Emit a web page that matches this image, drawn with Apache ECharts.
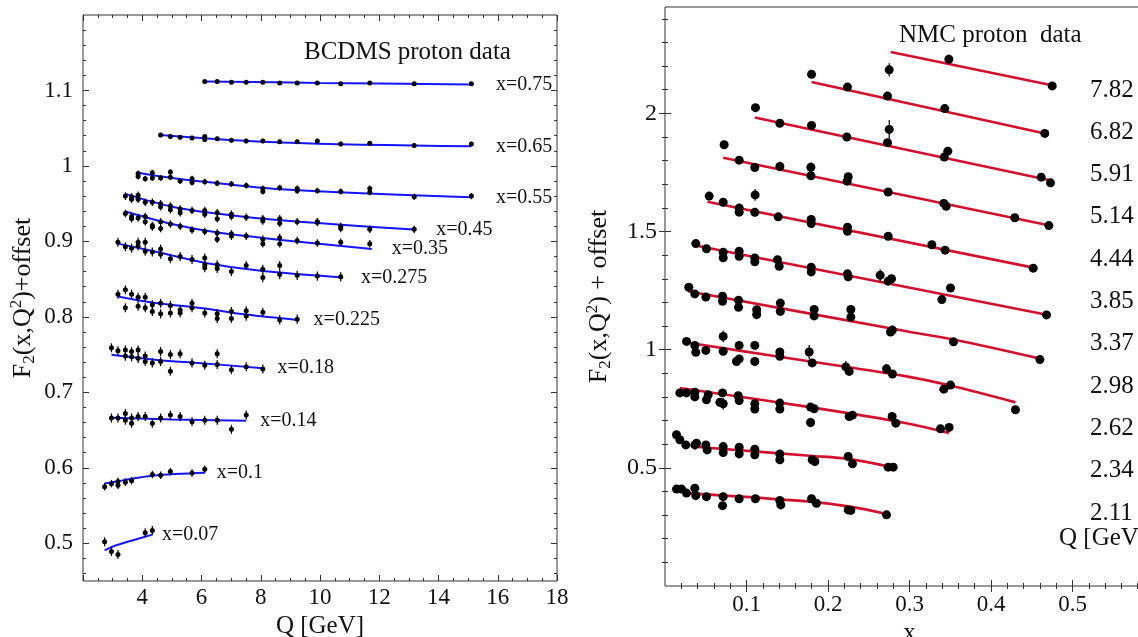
<!DOCTYPE html>
<html><head><meta charset="utf-8">
<script src="https://cdn.jsdelivr.net/npm/echarts@6/dist/echarts.min.js"></script>
<style>html,body{margin:0;padding:0;background:#fff}#c{width:1138px;height:637px}</style>
</head><body><div id="c"></div>
<script>
// ================= DATA =================
// BCDMS proton data (left panel): [Q (GeV), F2(x,Q^2)+offset]
const bcdmsLabels = ['x=0.75','x=0.65','x=0.55','x=0.45','x=0.35','x=0.275','x=0.225','x=0.18','x=0.14','x=0.1','x=0.07'];
const bcdms075 = [[6.11,1.112],[6.53,1.112],[7.01,1.111],[7.51,1.111],[8.07,1.111],[8.64,1.110],[9.23,1.110],[9.91,1.110],[10.70,1.109],[11.68,1.110],[13.18,1.109],[15.11,1.109]];
const bcdms065 = [[4.62,1.041],[4.95,1.039],[5.28,1.038],[5.68,1.037],[6.11,1.039],[6.11,1.035],[6.53,1.036],[7.01,1.034],[7.51,1.033],[8.07,1.033],[8.64,1.032],[9.23,1.032],[9.91,1.033],[10.70,1.029],[11.68,1.030],[13.18,1.027],[15.11,1.029]];
const bcdms055 = [[3.86,0.990],[3.86,0.986],[4.10,0.983],[4.34,0.991],[4.34,0.984],[4.62,0.984],[4.95,0.992],[4.95,0.985],[5.28,0.980],[5.68,0.983],[5.68,0.978],[6.11,0.979],[6.53,0.977],[7.01,0.976],[7.51,0.974],[8.07,0.970],[8.07,0.966],[8.64,0.971],[9.23,0.970],[9.23,0.967],[9.91,0.967],[10.70,0.966],[11.68,0.970],[11.68,0.965],[13.18,0.959],[15.11,0.960]];
const bcdms045 = [[3.43,0.960],[3.64,0.959],[3.64,0.956],[3.86,0.961],[3.86,0.956],[4.10,0.952],[4.34,0.952],[4.62,0.950],[4.62,0.946],[4.95,0.947],[4.95,0.942],[5.28,0.943],[5.28,0.938],[5.68,0.941],[6.11,0.941],[6.11,0.936],[6.53,0.938],[6.53,0.930],[7.01,0.936],[7.01,0.933],[7.51,0.932],[8.07,0.930],[8.07,0.927],[8.64,0.930],[8.64,0.924],[9.23,0.926],[9.91,0.926],[9.91,0.925],[10.70,0.920],[10.70,0.917],[11.68,0.916],[13.18,0.916]];
const bcdms035 = [[3.43,0.937],[3.64,0.933],[3.64,0.930],[3.86,0.931],[4.10,0.933],[4.10,0.926],[4.34,0.921],[4.34,0.919],[4.62,0.926],[4.62,0.917],[4.95,0.923],[5.28,0.920],[5.68,0.915],[6.11,0.913],[6.53,0.911],[6.53,0.903],[7.01,0.910],[7.01,0.907],[7.51,0.907],[8.07,0.903],[8.07,0.897],[8.64,0.905],[8.64,0.897],[9.23,0.901],[9.91,0.898],[10.70,0.899],[11.68,0.897]];
const bcdms0275 = [[3.18,0.899],[3.43,0.893],[3.64,0.891],[3.86,0.899],[3.86,0.894],[4.10,0.899],[4.10,0.887],[4.34,0.886],[4.62,0.890],[4.62,0.883],[4.95,0.877],[5.28,0.880],[5.68,0.876],[6.11,0.878],[6.11,0.869],[6.11,0.865],[6.53,0.869],[6.53,0.864],[7.01,0.860],[7.51,0.868],[8.07,0.863],[8.07,0.852],[8.64,0.868],[8.64,0.856],[9.23,0.855],[9.91,0.854],[10.70,0.853]];
const bcdms0225 = [[3.18,0.830],[3.43,0.836],[3.43,0.812],[3.64,0.830],[3.86,0.826],[3.86,0.814],[4.10,0.826],[4.10,0.812],[4.34,0.816],[4.34,0.807],[4.62,0.818],[4.62,0.804],[4.95,0.815],[4.95,0.805],[5.28,0.809],[5.28,0.805],[5.68,0.818],[5.68,0.812],[6.11,0.805],[6.53,0.804],[6.53,0.798],[7.01,0.807],[7.01,0.798],[7.51,0.808],[7.51,0.801],[8.07,0.806],[8.64,0.796],[9.23,0.797]];
const bcdms018 = [[2.96,0.759],[3.18,0.755],[3.43,0.756],[3.43,0.748],[3.64,0.754],[3.64,0.747],[3.86,0.756],[3.86,0.745],[4.10,0.748],[4.10,0.741],[4.34,0.739],[4.62,0.754],[4.62,0.741],[4.95,0.750],[4.95,0.728],[5.28,0.751],[5.68,0.739],[6.11,0.736],[6.53,0.751],[6.53,0.737],[7.01,0.730],[7.51,0.734],[8.07,0.731]];
const bcdms014 = [[2.96,0.666],[3.18,0.666],[3.43,0.672],[3.43,0.663],[3.64,0.666],[3.64,0.659],[3.86,0.668],[4.10,0.668],[4.34,0.659],[4.62,0.666],[4.95,0.670],[5.28,0.668],[5.68,0.661],[6.11,0.663],[6.53,0.663],[7.01,0.651],[7.51,0.670]];
const bcdms010 = [[2.73,0.575],[2.96,0.579],[3.18,0.582],[3.18,0.577],[3.43,0.581],[3.64,0.583],[4.34,0.591],[4.62,0.590],[4.95,0.595],[5.68,0.593],[6.11,0.598]];
const bcdms007 = [[2.73,0.502],[2.96,0.489],[3.18,0.485],[4.10,0.514],[4.34,0.517]];
const bcdmsErr = [0.002,0.003,0.004,0.005,0.005,0.006,0.006,0.006,0.006,0.005,0.006];
// fitted curves (left panel)
const fit075 = [[6.11,1.112],[10.0,1.110],[15.11,1.108]];
const fit065 = [[4.62,1.041],[8.68,1.031],[15.11,1.026]];
const fit055 = [[3.86,0.991],[5.0,0.984],[6.11,0.979],[8.68,0.969],[15.11,0.9585]];
const fit045 = [[3.43,0.963],[5.0,0.946],[6.5,0.937],[8.68,0.928],[13.18,0.9157]];
const fit035 = [[3.43,0.9396],[5.0,0.923],[6.5,0.912],[8.68,0.902],[11.75,0.890]];
const fit0275 = [[3.22,0.8967],[4.5,0.886],[6.14,0.8714],[8.0,0.861],[10.76,0.8523]];
const fit0225 = [[3.18,0.827],[4.34,0.819],[6.11,0.811],[7.51,0.803],[9.23,0.796]];
const fit018 = [[2.96,0.7497],[4.5,0.743],[6.0,0.7386],[8.07,0.732]];
const fit014 = [[2.96,0.6664],[5.0,0.664],[7.51,0.6624]];
const fit010 = [[2.73,0.5793],[3.3,0.583],[4.34,0.5895],[6.11,0.5934]];
const fit007 = [[2.73,0.4907],[3.12,0.4973],[3.6,0.503],[4.34,0.5115]];

// NMC proton data (right panel): [x, F2(x,Q^2)+offset, error]
const nmcQLabels = ['7.82','6.82','5.91','5.14','4.44','3.85','3.37','2.98','2.62','2.34','2.11'];
const nmc782 = [[0.2751,2.184,0.028],[0.3483,2.229,0.02],[0.4751,2.116,0.01]];
const nmc682 = [[0.1798,2.165,0.01],[0.2239,2.111,0.01],[0.2730,2.073,0.01],[0.3433,2.020,0.01],[0.4660,1.915,0.01]];
const nmc591 = [[0.1110,2.024,0.01],[0.1409,1.958,0.01],[0.1798,1.949,0.01],[0.2231,1.900,0.01],[0.2751,1.932,0.04],[0.2730,1.876,0.01],[0.3470,1.840,0.012],[0.3426,1.815,0.01],[0.4616,1.730,0.01],[0.4730,1.706,0.01]];
const nmc514 = [[0.0726,1.867,0.01],[0.0910,1.802,0.01],[0.1102,1.771,0.01],[0.1409,1.775,0.02],[0.1790,1.772,0.02],[0.1790,1.736,0.01],[0.2248,1.732,0.015],[0.2235,1.713,0.01],[0.2738,1.667,0.01],[0.3421,1.619,0.01],[0.3450,1.607,0.01],[0.4292,1.558,0.01],[0.4710,1.525,0.01]];
const nmc444 = [[0.0542,1.650,0.01],[0.0714,1.624,0.01],[0.0910,1.600,0.01],[0.0910,1.582,0.015],[0.1106,1.655,0.025],[0.1102,1.581,0.01],[0.1389,1.562,0.01],[0.1794,1.551,0.01],[0.1794,1.534,0.01],[0.2239,1.518,0.01],[0.2239,1.501,0.01],[0.2738,1.480,0.01],[0.3274,1.444,0.01],[0.3437,1.421,0.01],[0.4518,1.345,0.01]];
const nmc385 = [[0.0378,1.449,0.01],[0.0509,1.427,0.01],[0.0714,1.412,0.01],[0.0714,1.389,0.01],[0.0910,1.417,0.01],[0.0910,1.395,0.01],[0.1102,1.388,0.01],[0.1102,1.372,0.01],[0.1380,1.381,0.01],[0.1401,1.353,0.01],[0.1794,1.349,0.01],[0.1794,1.329,0.01],[0.2239,1.321,0.01],[0.2248,1.308,0.01],[0.2640,1.315,0.025],[0.2738,1.290,0.01],[0.2779,1.300,0.015],[0.3397,1.212,0.01],[0.3503,1.261,0.01],[0.4681,1.147,0.01]];
const nmc337 = [[0.0292,1.264,0.01],[0.0366,1.236,0.01],[0.0501,1.223,0.01],[0.0706,1.226,0.01],[0.0706,1.205,0.01],[0.0902,1.209,0.01],[0.0902,1.179,0.01],[0.1125,1.169,0.01],[0.1125,1.149,0.02],[0.1415,1.197,0.015],[0.1415,1.162,0.01],[0.1830,1.170,0.01],[0.1830,1.143,0.01],[0.2280,1.170,0.01],[0.2280,1.138,0.01],[0.2767,1.075,0.01],[0.2790,1.083,0.01],[0.3540,1.033,0.01],[0.4600,0.958,0.01]];
const nmc298 = [[0.0264,1.035,0.01],[0.0366,1.018,0.01],[0.0378,0.989,0.01],[0.0501,0.997,0.01],[0.0714,1.056,0.025],[0.0714,0.993,0.01],[0.0877,0.950,0.01],[0.0910,1.018,0.015],[0.0910,0.961,0.01],[0.1102,1.018,0.01],[0.1102,0.950,0.01],[0.1409,0.990,0.01],[0.1409,0.972,0.01],[0.1769,0.990,0.03],[0.1806,0.944,0.01],[0.2219,0.927,0.025],[0.2260,0.908,0.01],[0.2718,0.919,0.02],[0.2791,0.897,0.01],[0.3421,0.833,0.01],[0.3503,0.850,0.01],[0.4300,0.746,0.01]];
const nmc262 = [[0.0182,0.817,0.01],[0.0264,0.817,0.01],[0.0366,0.820,0.01],[0.0366,0.800,0.01],[0.0509,0.788,0.01],[0.0530,0.809,0.01],[0.0673,0.777,0.01],[0.0706,0.817,0.01],[0.0714,0.771,0.025],[0.0898,0.805,0.012],[0.0910,0.785,0.01],[0.1102,0.771,0.01],[0.1102,0.749,0.012],[0.1409,0.774,0.01],[0.1409,0.749,0.01],[0.1786,0.757,0.01],[0.1830,0.750,0.01],[0.1786,0.692,0.02],[0.2260,0.717,0.01],[0.2300,0.723,0.01],[0.2787,0.717,0.01],[0.2832,0.689,0.01],[0.3380,0.665,0.01],[0.3486,0.671,0.01]];
const nmc234 = [[0.0141,0.640,0.01],[0.0182,0.619,0.01],[0.0255,0.597,0.01],[0.0366,0.597,0.02],[0.0386,0.604,0.01],[0.0501,0.597,0.01],[0.0517,0.576,0.01],[0.0714,0.590,0.01],[0.0714,0.565,0.01],[0.0910,0.587,0.01],[0.0910,0.559,0.015],[0.1102,0.579,0.01],[0.1102,0.555,0.01],[0.1409,0.559,0.01],[0.1409,0.534,0.01],[0.1806,0.534,0.01],[0.1839,0.527,0.01],[0.2248,0.548,0.01],[0.2300,0.517,0.01],[0.2738,0.503,0.01],[0.2800,0.503,0.01]];
const nmc211 = [[0.0141,0.410,0.01],[0.0203,0.410,0.01],[0.0264,0.393,0.01],[0.0366,0.414,0.01],[0.0378,0.383,0.02],[0.0509,0.378,0.01],[0.0714,0.378,0.01],[0.0706,0.340,0.01],[0.0910,0.369,0.01],[0.1110,0.369,0.01],[0.1409,0.362,0.01],[0.1421,0.343,0.01],[0.1798,0.369,0.01],[0.1859,0.350,0.01],[0.2248,0.322,0.01],[0.2280,0.320,0.01],[0.2718,0.301,0.01]];
// fitted curves (right panel)
const fit782 = [[0.277,2.260],[0.479,2.116]];
const fit682 = [[0.1798,2.133],[0.466,1.915]];
const fit591 = [[0.1102,1.982],[0.475,1.715]];
const fit514 = [[0.0714,1.812],[0.472,1.525]];
const fit444 = [[0.0521,1.626],[0.455,1.345]];
const fit385 = [[0.0378,1.441],[0.470,1.147]];
const fit337 = [[0.0284,1.247],[0.2963,1.078],[0.354,1.043],[0.4617,0.961]];
const fit298 = [[0.0305,1.028],[0.14,0.970],[0.2963,0.887],[0.35,0.848],[0.430,0.777]];
const fit262 = [[0.0182,0.838],[0.1777,0.757],[0.2963,0.689],[0.3486,0.647]];
const fit234 = [[0.0325,0.590],[0.1777,0.551],[0.2268,0.537],[0.2738,0.506]];
const fit211 = [[0.0264,0.393],[0.1777,0.357],[0.2268,0.336],[0.2718,0.305]];

// tick labels
const leftXTicks = [4,6,8,10,12,14,16,18];
const leftYTicks = [0.5,0.6,0.7,0.8,0.9,1,1.1];
const rightXTicks = [0.1,0.2,0.3,0.4,0.5];
const rightYTicks = [0.5,1,1.5,2];

// ================= BUILD =================
const bcdmsPoints = [bcdms075,bcdms065,bcdms055,bcdms045,bcdms035,bcdms0275,bcdms0225,bcdms018,bcdms014,bcdms010,bcdms007];
const bcdmsFits = [fit075,fit065,fit055,fit045,fit035,fit0275,fit0225,fit018,fit014,fit010,fit007];
const nmcPoints = [nmc782,nmc682,nmc591,nmc514,nmc444,nmc385,nmc337,nmc298,nmc262,nmc234,nmc211];
const nmcFits = [fit782,fit682,fit591,fit514,fit444,fit385,fit337,fit298,fit262,fit234,fit211];

const FONT = '"Liberation Serif", "DejaVu Serif", serif';
const TXT = '#111';
function range(a, b, s) { const o = []; for (let v = a; v <= b + 1e-9; v += s) o.push(Math.round(v * 1e4) / 1e4); return o; }
function minus(arr, ex) { return arr.filter(v => !ex.some(e => Math.abs(e - v) < 1e-6)); }

function frame(dim, grid, min, max, labelVals, majorVals, minorVals, o) {
  const base = { type: 'value', gridIndex: grid, min, max, splitLine: { show: false }, axisLine: { show: false }, silent: true };
  const ts = { color: '#333', width: 1 };
  const pm = dim === 'x' ? 'bottom' : 'left', po = dim === 'x' ? 'top' : 'right';
  return [
    Object.assign({}, base, { position: pm,
      axisTick: { show: true, inside: true, length: 6, customValues: majorVals, lineStyle: ts },
      axisLabel: { show: true, customValues: labelVals, margin: o.margin, fontFamily: FONT, fontSize: o.fontSize, color: TXT },
      name: o.name, nameLocation: 'middle', nameGap: o.nameGap, nameTextStyle: o.nameStyle }),
    Object.assign({}, base, { position: pm, axisTick: { show: true, inside: true, length: 3, customValues: minorVals, lineStyle: ts }, axisLabel: { show: false } }),
    Object.assign({}, base, { position: po, axisTick: { show: true, inside: true, length: 6, customValues: majorVals, lineStyle: ts }, axisLabel: { show: false } }),
    Object.assign({}, base, { position: po, axisTick: { show: true, inside: true, length: 3, customValues: minorVals, lineStyle: ts }, axisLabel: { show: false } })
  ];
}
const nameRich = { fontFamily: FONT, fontSize: 26, color: TXT, lineHeight: 30,
  rich: { s: { fontFamily: FONT, fontSize: 17, lineHeight: 14, verticalAlign: 'bottom', color: TXT },
          p: { fontFamily: FONT, fontSize: 17, lineHeight: 16, verticalAlign: 'top', color: TXT } } };
const plainName = { fontFamily: FONT, fontSize: 25, color: TXT };

const lxMaj = range(2, 18, 2), lxMin = minus(range(2.5, 17.5, 0.5), lxMaj);
const lyMaj = range(0.5, 1.1, 0.1), lyMin = minus(range(0.46, 1.18, 0.02), lyMaj);
const rxMaj = range(0.1, 0.6, 0.1), rxMin = minus(range(0.02, 0.58, 0.02), rxMaj);
const ryMaj = range(0.5, 2, 0.5), ryMin = minus(range(0.1, 2.4, 0.1), ryMaj);

const xAxes = [
  ...frame('x', 0, 2, 18, leftXTicks, lxMaj, lxMin, { margin: 5, fontSize: 23, name: 'Q [GeV]', nameGap: 29, nameStyle: plainName }),
  ...frame('x', 1, 0, 0.6, rightXTicks, rxMaj, rxMin, { margin: 7, fontSize: 23, name: 'x', nameGap: 28, nameStyle: plainName })
];
const yAxes = [
  ...frame('y', 0, 0.45, 1.2, leftYTicks, lyMaj, lyMin, { margin: 10, fontSize: 23, name: 'F{s|2}(x,Q{p|2})+offset', nameGap: 45, nameStyle: nameRich }),
  ...frame('y', 1, 0, 2.45, rightYTicks, ryMaj, ryMin, { margin: 8, fontSize: 24, name: 'F{s|2}(x,Q{p|2}) + offset', nameGap: 51, nameStyle: nameRich })
];

function errSeries(data, ax) {
  return { type: 'custom', xAxisIndex: ax, yAxisIndex: ax, z: 4, silent: true, encode: { x: 0, y: 1 }, data,
    renderItem: function (params, api) {
      const x = api.value(0), y = api.value(1), e = api.value(2);
      const a = api.coord([x, y - e]), b = api.coord([x, y + e]);
      return { type: 'line', shape: { x1: a[0], y1: a[1], x2: b[0], y2: b[1] }, style: { stroke: '#000', lineWidth: 1.2 } };
    } };
}

const series = [];
// left panel
bcdmsFits.forEach((f, i) => {
  const qEnd = f[f.length - 1][0];
  series.push({ type: 'line', xAxisIndex: 0, yAxisIndex: 0, data: f, smooth: 0.35, symbol: 'none', z: 2, silent: true,
    lineStyle: { color: '#1414ff', width: 2 },
    endLabel: { show: true, formatter: bcdmsLabels[i], distance: 3.5 + 1.4 * qEnd, fontFamily: FONT, fontSize: 20, color: TXT } });
});
const leftErr = [];
bcdmsPoints.forEach((pts, i) => {
  series.push({ type: 'scatter', xAxisIndex: 0, yAxisIndex: 0, data: pts, symbol: 'circle', symbolSize: 5, z: 5, silent: true,
    itemStyle: { color: '#000', opacity: 1 } });
  pts.forEach(p => leftErr.push([p[0], p[1], bcdmsErr[i]]));
});
series.push(errSeries(leftErr, 0));
// right panel
nmcFits.forEach(f => {
  series.push({ type: 'line', xAxisIndex: 4, yAxisIndex: 4, data: f, smooth: 0.35, symbol: 'none', z: 2, silent: true,
    lineStyle: { color: '#d3102e', width: 2.6 } });
});
const rightErr = [];
nmcPoints.forEach(pts => {
  series.push({ type: 'scatter', xAxisIndex: 4, yAxisIndex: 4, data: pts.map(p => [p[0], p[1]]), symbol: 'circle', symbolSize: 9, z: 5, silent: true,
    itemStyle: { color: '#000', opacity: 1 } });
  pts.forEach(p => rightErr.push(p));
});
series.push(errSeries(rightErr, 4));

// text annotations (layout)
function txt(s, x, y, size) {
  return { type: 'text', x, y, silent: true,
    style: { text: s, font: size + 'px ' + FONT, fill: TXT, align: 'left', verticalAlign: 'middle', textAlign: 'left', textVerticalAlign: 'middle' } };
}
const graphic = [txt('BCDMS proton data', 304, 52, 25), txt('NMC proton  data', 899, 35, 25)];
nmcQLabels.forEach((s, i) => graphic.push(txt(s, 1090, 90 + 42.3 * i, 25)));
graphic.push(txt('Q [GeV]', 1059, 538, 25));

const chart = echarts.init(document.getElementById('c'), null, { renderer: 'canvas' });
chart.setOption({
  animation: false,
  backgroundColor: '#fff',
  grid: [
    { left: 83, top: 15, width: 474, height: 566, show: true, borderColor: '#333', borderWidth: 1, backgroundColor: 'transparent', outerBoundsMode: 'none', containLabel: false },
    { left: 665, top: 7, width: 489, height: 579, show: true, borderColor: '#333', borderWidth: 1, backgroundColor: 'transparent', outerBoundsMode: 'none', containLabel: false }
  ],
  xAxis: xAxes,
  yAxis: yAxes,
  series,
  graphic
});
</script></body></html>
